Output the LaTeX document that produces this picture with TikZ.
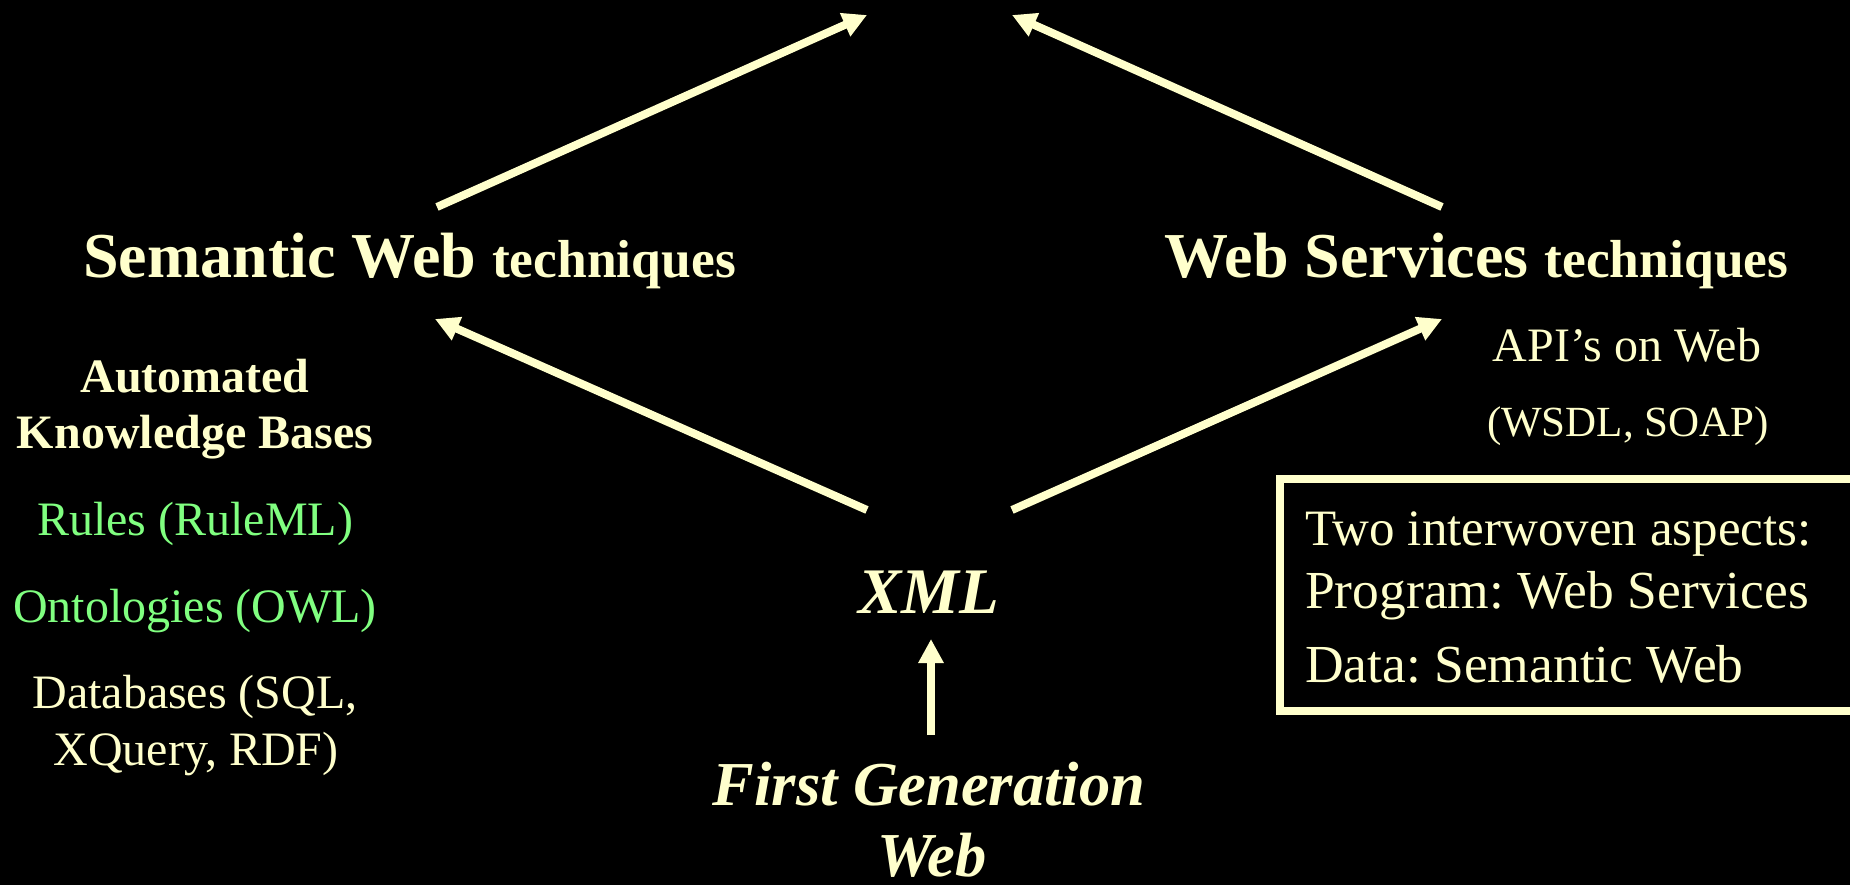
\documentclass[tikz,border=0pt]{standalone}
\usepackage{fontspec}
\setmainfont{Liberation Serif}
\usetikzlibrary{arrows.meta}
\definecolor{cream}{RGB}{255,255,204}
\definecolor{lgreen}{RGB}{128,255,128}
\tikzset{
  txt/.style={anchor=base, inner sep=0pt, text=cream},
  gtxt/.style={anchor=base, inner sep=0pt, text=lgreen},
  conn/.style={draw=cream, line width=8pt, -{Triangle[length=24pt,width=24pt]}},
  framebox/.style={draw=cream, line width=8pt, inner sep=0pt, minimum width=580.5pt, minimum height=232pt},
}
\newcommand\fsz[1]{\fontsize{#1}{#1}\selectfont}
\frenchspacing
\begin{document}
\begin{tikzpicture}[x=1pt,y=-1pt]
\fill[black] (0,0) rectangle (1850,885);
\useasboundingbox (0,0) rectangle (1850,885);

% headings
\node[txt, anchor=base west] (sw) at (83,278) {\fsz{64}\bfseries Semantic Web \fsz{53.5}techniques};
\node[txt, anchor=base west] (ws) at (1164,278) {\fsz{64}\bfseries Web Services \fsz{53.5}techniques};

% left column
\node[txt] (auto) at (195,392) {\fsz{48}\bfseries Automated};
\node[txt] (kb) at (195,448) {\fsz{48}\bfseries Knowledge Bases};
\node[gtxt] (rules) at (195,535) {\fsz{48}Rules (RuleML)};
\node[gtxt] (onto) at (195,622) {\fsz{48}Ontologies (OWL)};
\node[txt] (db1) at (195,708) {\fsz{48}Databases (SQL,};
\node[txt] (db2) at (196,765) {\fsz{48}XQuery, RDF)};

% right column
\node[txt] (api) at (1627,361) {\fsz{48}API’s on Web};
\node[txt] (wsdl) at (1628,436) {\fsz{43}(WSDL, SOAP)};

% framed box
\node[framebox] (box) at (1569.75,595) {};
\node[txt, anchor=base west] (b1) at (1305,545) {\fsz{51}Two interwoven aspects:};
\node[txt, anchor=base west] (b2) at (1305,608) {\fsz{53.5}Program: Web Services};
\node[txt, anchor=base west] (b3) at (1305,682) {\fsz{53.5}Data: Semantic Web};

% centre
\node[txt] (xml) at (929,613) {\fsz{65}\bfseries\itshape XML};
\node[txt] (fg1) at (929,805) {\fsz{62.5}\bfseries\itshape First Generation};
\node[txt] (fg2) at (932,876) {\fsz{62.5}\bfseries\itshape Web};

% arrow end points
\coordinate (t1) at (867,15);
\coordinate (s1) at (437,207);
\coordinate (t2) at (1012,15);
\coordinate (s2) at (1442,207);
\coordinate (x1) at (867,510);
\coordinate (h1) at (435,319);
\coordinate (x2) at (1012,510);
\coordinate (h2) at (1442,319);
\coordinate (u1) at (931,735);
\coordinate (u2) at (931,639);

\draw[conn] (s1) -- (t1);
\draw[conn] (s2) -- (t2);
\draw[conn] (x1) -- (h1);
\draw[conn] (x2) -- (h2);
\draw[conn] (u1) -- (u2);
\end{tikzpicture}
\end{document}
